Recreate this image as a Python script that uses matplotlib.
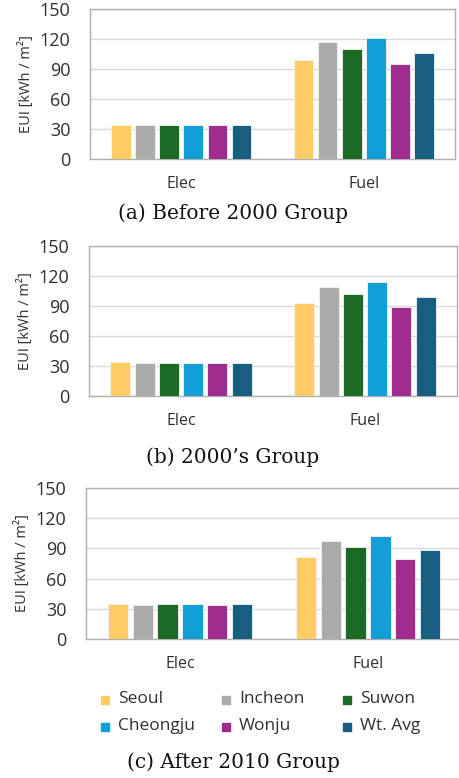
import matplotlib
matplotlib.use("Agg")
import matplotlib.pyplot as plt
import numpy as np

categories = ["Elec", "Fuel"]
cities = ["Seoul", "Incheon", "Suwon", "Cheongju", "Wonju", "Wt. Avg"]
colors = ["#FFCC66", "#ABABAB", "#1B6B26", "#129FD8", "#A02C8F", "#175E80"]

before2000 = {
    "Seoul": [34.3, 99.3], "Incheon": [33.6, 116.7], "Suwon": [33.6, 110.0],
    "Cheongju": [34.3, 121.3], "Wonju": [33.6, 95.3], "Wt. Avg": [34.3, 106.0],
}
y2000s = {
    "Seoul": [34.2, 93.1], "Incheon": [32.8, 109.5], "Suwon": [33.5, 102.5],
    "Cheongju": [33.5, 114.5], "Wonju": [32.8, 88.7], "Wt. Avg": [33.5, 99.4],
}
after2010 = {
    "Seoul": [34.9, 81.8], "Incheon": [33.6, 97.3], "Suwon": [34.3, 91.0],
    "Cheongju": [34.3, 102.2], "Wonju": [33.6, 79.1], "Wt. Avg": [34.3, 88.4],
}
captions = ["(a) Before 2000 Group", "(b) 2000\u2019s Group", "(c) After 2010 Group"]
yticks = [0, 30, 60, 90, 120, 150]

W, H = 460, 778
fig = plt.figure(figsize=(W / 100, H / 100), dpi=100)
sans = "Open Sans"
serif = "DejaVu Serif"
txt = "#303030"

# (left, top, right, bottom) in pixels
boxes = [(90, 9, 455, 159), (89, 246, 457, 396), (86, 488, 462, 639)]
caption_y = [213, 457, 762]
datasets = [before2000, y2000s, after2010]

x = np.arange(len(categories))
slot = 0.132
bw = 0.108
for (l, t, r, b), data, cap, cy in zip(boxes, datasets, captions, caption_y):
    ax = fig.add_axes([l / W, 1 - b / H, (r - l) / W, (b - t) / H])
    for i, (city, c) in enumerate(zip(cities, colors)):
        ax.bar(x + (i - 2.5) * slot, data[city], width=bw, color=c,
               edgecolor="#F4F4F4", linewidth=0.6, zorder=3)
    ax.set_xlim(-0.5, 1.5)
    ax.set_ylim(0, 150)
    ax.set_yticks(yticks)
    ax.set_yticklabels([str(v) for v in yticks], fontsize=13, family=sans, color=txt)
    ax.set_xticks(x)
    ax.set_xticklabels(categories, fontsize=11.5, family=sans, color=txt)
    ax.tick_params(axis="both", length=0)
    ax.tick_params(axis="x", pad=12)
    ax.tick_params(axis="y", pad=14)
    ax.grid(axis="y", color="#D9D9D9", linewidth=1, zorder=0)
    for s in ax.spines.values():
        s.set_color("#B0B0B0")
        s.set_linewidth(1)
    ax.set_ylabel("EUI [kWh / m\u00b2]", fontsize=10.5, family=sans, color=txt, labelpad=4)
    fig.text(233 / W, 1 - cy / H, cap, fontsize=14.5, family=serif, ha="center", va="center",
             color="#111111")

# legend
leg_x = [105, 226, 347]
leg_y = [699, 726]
for i, (city, c) in enumerate(zip(cities, colors)):
    col, row = i % 3, i // 3
    px, py = leg_x[col], leg_y[row]
    fig.patches.append(plt.Rectangle(((px - 4) / W, 1 - (py - 3) / H - 8 / H), 8 / W, 8 / H,
                                     transform=fig.transFigure, color=c, figure=fig))
    fig.text((px + 13) / W, 1 - py / H, city, fontsize=12.5, family=sans, ha="left",
             va="center", color=txt)

fig.savefig("out.png", dpi=100)
